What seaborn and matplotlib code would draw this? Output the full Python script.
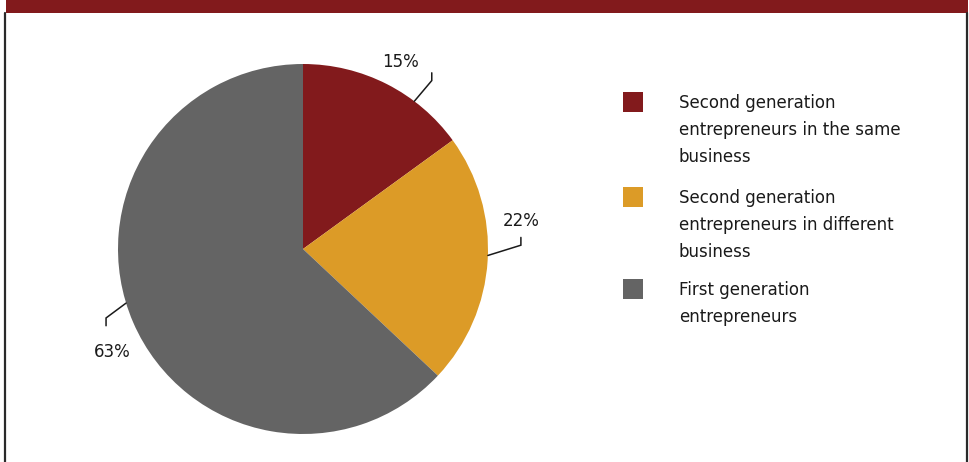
"""
Pie chart: generation of entrepreneurs.
"""
import matplotlib.pyplot as plt
import matplotlib.patches as mpatches
from matplotlib.lines import Line2D
import numpy as np
import seaborn as sns

categories = [
    "Second generation\nentrepreneurs in the same\nbusiness",
    "Second generation\nentrepreneurs in different\nbusiness",
    "First generation\nentrepreneurs",
]
shares = [15, 22, 63]
pct_labels = ["15%", "22%", "63%"]
colors = ["#821a1c", "#dc9b27", "#646464"]

sns.set_theme(style="white")
plt.rcParams["font.family"] = ["DejaVu Sans"]

W, H = 970, 462
TXT = "#1a1a1a"
palette = sns.color_palette(colors)

fig = plt.figure(figsize=(W / 100, H / 100), dpi=100)

# header band and side frame
fig.add_artist(mpatches.Rectangle((6 / W, 1 - 13 / H), 962 / W, 13 / H,
                                  transform=fig.transFigure, color=colors[0], lw=0))
for xp in (5.5, 967):
    fig.add_artist(Line2D([xp / W, xp / W], [0, 1 - 13 / H], transform=fig.transFigure,
                          color="#2a2a2a", lw=1.6))

# pie, radius 185px centred at (303, 249)
ax = fig.add_axes([118 / W, 28 / H, 370 / W, 370 / H])
wedges, _ = ax.pie(shares, colors=palette, startangle=90, counterclock=False,
                   radius=1, wedgeprops=dict(linewidth=0))
ax.set_xlim(-1, 1)
ax.set_ylim(-1, 1)
ax.axis("off")

# leader lines + percentage labels (layout tweaks per slice)
label_shift = [-0.5, 11, 5]
label_rad = [1.14, 1.19, 1.17]
edge_shift = [-10, 1.6, -6.4]
elbow_shift = [-10.4, 4.6, -4.1]
elbow_rad = [1.146, 1.178, 1.128]
for i, w in enumerate(wedges):
    mid = (w.theta1 + w.theta2) / 2
    la = np.deg2rad(mid + label_shift[i])
    lx, ly = label_rad[i] * np.cos(la), label_rad[i] * np.sin(la)
    ea = np.deg2rad(mid + edge_shift[i])
    ka = np.deg2rad(mid + elbow_shift[i])
    ex, ey = np.cos(ea), np.sin(ea)
    kx, ky = elbow_rad[i] * np.cos(ka), elbow_rad[i] * np.sin(ka)
    tx, ty = kx, ky + np.sign(ly - ky) * 0.042
    ax.plot([ex, kx, tx], [ey, ky, ty], color=TXT, lw=1.1, clip_on=False,
            solid_joinstyle="miter")
    ax.text(lx, ly, pct_labels[i], ha="center", va="center", fontsize=12,
            color=TXT, clip_on=False)

# legend drawn by hand: square + wrapped label
sq_top = [92, 187, 279]
for i, lab in enumerate(categories):
    fig.add_artist(mpatches.Rectangle((623 / W, 1 - (sq_top[i] + 20) / H), 20 / W, 20 / H,
                                      transform=fig.transFigure, color=palette[i], lw=0))
    fig.text(679 / W, 1 - (sq_top[i] + 2) / H, lab, ha="left", va="top",
             fontsize=12, color=TXT, linespacing=1.66)

fig.savefig("out.png", dpi=100)
plt.close(fig)
